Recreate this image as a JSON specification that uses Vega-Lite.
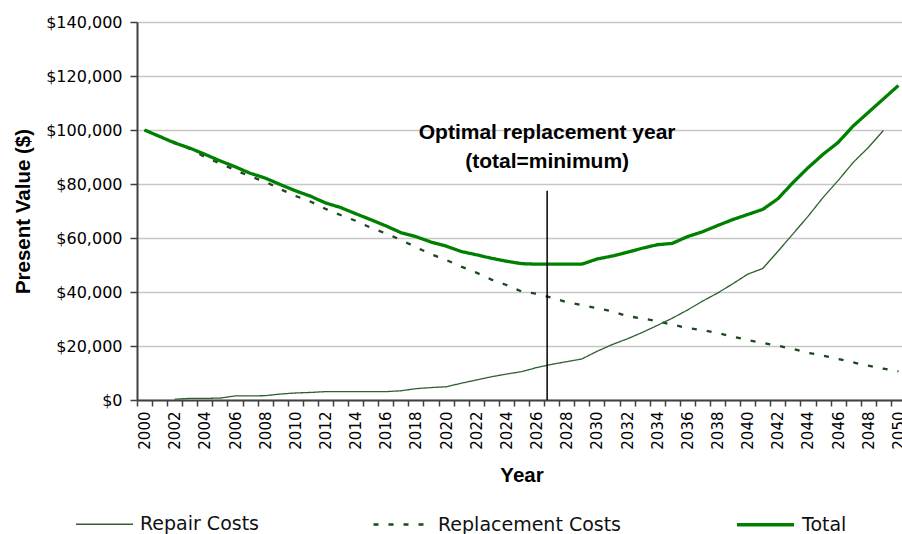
{
  "$schema": "https://vega.github.io/schema/vega-lite/v6.json",
  "width": 769,
  "height": 378,
  "autosize": {"type": "none"},
  "padding": {"left": 137, "top": 22, "right": 0, "bottom": 134},
  "background": "#ffffff",
  "config": {
    "view": {"stroke": null},
    "axis": {
      "labelFont": "DejaVu Sans",
      "labelColor": "#000000",
      "titleFont": "Liberation Sans",
      "titleFontWeight": "bold",
      "titleFontSize": 20.5,
      "titleColor": "#000000",
      "domainColor": "#404040",
      "domainWidth": 2,
      "tickColor": "#404040",
      "tickWidth": 1.5
    }
  },
  "datasets": {
    "lines": [
      {"year": 2000, "series": "Replacement Costs", "value": 100000},
      {"year": 2001, "series": "Replacement Costs", "value": 97700},
      {"year": 2002, "series": "Replacement Costs", "value": 95400},
      {"year": 2003, "series": "Replacement Costs", "value": 93000},
      {"year": 2004, "series": "Replacement Costs", "value": 90000},
      {"year": 2005, "series": "Replacement Costs", "value": 87600},
      {"year": 2006, "series": "Replacement Costs", "value": 85200},
      {"year": 2007, "series": "Replacement Costs", "value": 82800},
      {"year": 2008, "series": "Replacement Costs", "value": 80900},
      {"year": 2009, "series": "Replacement Costs", "value": 78100},
      {"year": 2010, "series": "Replacement Costs", "value": 75600},
      {"year": 2011, "series": "Replacement Costs", "value": 73500},
      {"year": 2012, "series": "Replacement Costs", "value": 70800},
      {"year": 2013, "series": "Replacement Costs", "value": 68500},
      {"year": 2014, "series": "Replacement Costs", "value": 66400},
      {"year": 2015, "series": "Replacement Costs", "value": 63800},
      {"year": 2016, "series": "Replacement Costs", "value": 61700},
      {"year": 2017, "series": "Replacement Costs", "value": 59300},
      {"year": 2018, "series": "Replacement Costs", "value": 56600},
      {"year": 2019, "series": "Replacement Costs", "value": 54000},
      {"year": 2020, "series": "Replacement Costs", "value": 51900},
      {"year": 2021, "series": "Replacement Costs", "value": 49400},
      {"year": 2022, "series": "Replacement Costs", "value": 47200},
      {"year": 2023, "series": "Replacement Costs", "value": 44600},
      {"year": 2024, "series": "Replacement Costs", "value": 42600},
      {"year": 2025, "series": "Replacement Costs", "value": 40200},
      {"year": 2026, "series": "Replacement Costs", "value": 39400},
      {"year": 2027, "series": "Replacement Costs", "value": 37900},
      {"year": 2028, "series": "Replacement Costs", "value": 36200},
      {"year": 2029, "series": "Replacement Costs", "value": 35200},
      {"year": 2030, "series": "Replacement Costs", "value": 34000},
      {"year": 2031, "series": "Replacement Costs", "value": 32900},
      {"year": 2032, "series": "Replacement Costs", "value": 31100},
      {"year": 2033, "series": "Replacement Costs", "value": 30200},
      {"year": 2034, "series": "Replacement Costs", "value": 29200},
      {"year": 2035, "series": "Replacement Costs", "value": 27900},
      {"year": 2036, "series": "Replacement Costs", "value": 26700},
      {"year": 2037, "series": "Replacement Costs", "value": 25900},
      {"year": 2038, "series": "Replacement Costs", "value": 24800},
      {"year": 2039, "series": "Replacement Costs", "value": 23500},
      {"year": 2040, "series": "Replacement Costs", "value": 22200},
      {"year": 2041, "series": "Replacement Costs", "value": 21100},
      {"year": 2042, "series": "Replacement Costs", "value": 20100},
      {"year": 2043, "series": "Replacement Costs", "value": 18900},
      {"year": 2044, "series": "Replacement Costs", "value": 17500},
      {"year": 2045, "series": "Replacement Costs", "value": 16400},
      {"year": 2046, "series": "Replacement Costs", "value": 15200},
      {"year": 2047, "series": "Replacement Costs", "value": 13900},
      {"year": 2048, "series": "Replacement Costs", "value": 12700},
      {"year": 2049, "series": "Replacement Costs", "value": 11600},
      {"year": 2050, "series": "Replacement Costs", "value": 10600},
      {"year": 2002, "series": "Repair Costs", "value": 300},
      {"year": 2003, "series": "Repair Costs", "value": 600},
      {"year": 2004, "series": "Repair Costs", "value": 600},
      {"year": 2005, "series": "Repair Costs", "value": 700},
      {"year": 2006, "series": "Repair Costs", "value": 1500},
      {"year": 2007, "series": "Repair Costs", "value": 1500},
      {"year": 2008, "series": "Repair Costs", "value": 1600},
      {"year": 2009, "series": "Repair Costs", "value": 2200},
      {"year": 2010, "series": "Repair Costs", "value": 2600},
      {"year": 2011, "series": "Repair Costs", "value": 2800},
      {"year": 2012, "series": "Repair Costs", "value": 3100},
      {"year": 2013, "series": "Repair Costs", "value": 3100},
      {"year": 2014, "series": "Repair Costs", "value": 3100},
      {"year": 2015, "series": "Repair Costs", "value": 3100},
      {"year": 2016, "series": "Repair Costs", "value": 3100},
      {"year": 2017, "series": "Repair Costs", "value": 3400},
      {"year": 2018, "series": "Repair Costs", "value": 4200},
      {"year": 2019, "series": "Repair Costs", "value": 4600},
      {"year": 2020, "series": "Repair Costs", "value": 4900},
      {"year": 2021, "series": "Repair Costs", "value": 6200},
      {"year": 2022, "series": "Repair Costs", "value": 7400},
      {"year": 2023, "series": "Repair Costs", "value": 8600},
      {"year": 2024, "series": "Repair Costs", "value": 9600},
      {"year": 2025, "series": "Repair Costs", "value": 10500},
      {"year": 2026, "series": "Repair Costs", "value": 12000},
      {"year": 2027, "series": "Repair Costs", "value": 13200},
      {"year": 2028, "series": "Repair Costs", "value": 14200},
      {"year": 2029, "series": "Repair Costs", "value": 15200},
      {"year": 2030, "series": "Repair Costs", "value": 18000},
      {"year": 2031, "series": "Repair Costs", "value": 20500},
      {"year": 2032, "series": "Repair Costs", "value": 22600},
      {"year": 2033, "series": "Repair Costs", "value": 25000},
      {"year": 2034, "series": "Repair Costs", "value": 27600},
      {"year": 2035, "series": "Repair Costs", "value": 30300},
      {"year": 2036, "series": "Repair Costs", "value": 33300},
      {"year": 2037, "series": "Repair Costs", "value": 36600},
      {"year": 2038, "series": "Repair Costs", "value": 39600},
      {"year": 2039, "series": "Repair Costs", "value": 43000},
      {"year": 2040, "series": "Repair Costs", "value": 46600},
      {"year": 2041, "series": "Repair Costs", "value": 48700},
      {"year": 2042, "series": "Repair Costs", "value": 55000},
      {"year": 2043, "series": "Repair Costs", "value": 61500},
      {"year": 2044, "series": "Repair Costs", "value": 68000},
      {"year": 2045, "series": "Repair Costs", "value": 75000},
      {"year": 2046, "series": "Repair Costs", "value": 81300},
      {"year": 2047, "series": "Repair Costs", "value": 88000},
      {"year": 2048, "series": "Repair Costs", "value": 93500},
      {"year": 2049, "series": "Repair Costs", "value": 99800},
      {"year": 2000, "series": "Total", "value": 100000},
      {"year": 2001, "series": "Total", "value": 97600},
      {"year": 2002, "series": "Total", "value": 95200},
      {"year": 2003, "series": "Total", "value": 93300},
      {"year": 2004, "series": "Total", "value": 91000},
      {"year": 2005, "series": "Total", "value": 88600},
      {"year": 2006, "series": "Total", "value": 86400},
      {"year": 2007, "series": "Total", "value": 84000},
      {"year": 2008, "series": "Total", "value": 82200},
      {"year": 2009, "series": "Total", "value": 79800},
      {"year": 2010, "series": "Total", "value": 77500},
      {"year": 2011, "series": "Total", "value": 75500},
      {"year": 2012, "series": "Total", "value": 73000},
      {"year": 2013, "series": "Total", "value": 71300},
      {"year": 2014, "series": "Total", "value": 69000},
      {"year": 2015, "series": "Total", "value": 66800},
      {"year": 2016, "series": "Total", "value": 64500},
      {"year": 2017, "series": "Total", "value": 62000},
      {"year": 2018, "series": "Total", "value": 60500},
      {"year": 2019, "series": "Total", "value": 58500},
      {"year": 2020, "series": "Total", "value": 57000},
      {"year": 2021, "series": "Total", "value": 55000},
      {"year": 2022, "series": "Total", "value": 53800},
      {"year": 2023, "series": "Total", "value": 52500},
      {"year": 2024, "series": "Total", "value": 51400},
      {"year": 2025, "series": "Total", "value": 50500},
      {"year": 2026, "series": "Total", "value": 50300},
      {"year": 2027, "series": "Total", "value": 50300},
      {"year": 2028, "series": "Total", "value": 50300},
      {"year": 2029, "series": "Total", "value": 50300},
      {"year": 2030, "series": "Total", "value": 52200},
      {"year": 2031, "series": "Total", "value": 53300},
      {"year": 2032, "series": "Total", "value": 54700},
      {"year": 2033, "series": "Total", "value": 56200},
      {"year": 2034, "series": "Total", "value": 57500},
      {"year": 2035, "series": "Total", "value": 58000},
      {"year": 2036, "series": "Total", "value": 60500},
      {"year": 2037, "series": "Total", "value": 62300},
      {"year": 2038, "series": "Total", "value": 64600},
      {"year": 2039, "series": "Total", "value": 66800},
      {"year": 2040, "series": "Total", "value": 68700},
      {"year": 2041, "series": "Total", "value": 70600},
      {"year": 2042, "series": "Total", "value": 74500},
      {"year": 2043, "series": "Total", "value": 80500},
      {"year": 2044, "series": "Total", "value": 86000},
      {"year": 2045, "series": "Total", "value": 91000},
      {"year": 2046, "series": "Total", "value": 95400},
      {"year": 2047, "series": "Total", "value": 101500},
      {"year": 2048, "series": "Total", "value": 106500},
      {"year": 2049, "series": "Total", "value": 111500},
      {"year": 2050, "series": "Total", "value": 116500}
    ],
    "marker": [
      {"year": 2026.7, "low": 0, "high": 77500, "labelY": 96700, "label": "Optimal replacement year\n(total=minimum)"}
    ]
  },
  "resolve": {"axis": {"x": "independent"}},
  "layer": [
    {
      "data": {"name": "lines"},
      "mark": {"type": "line", "strokeCap": "butt"},
      "encoding": {
        "x": {
          "field": "year",
          "type": "quantitative",
          "scale": {"domain": [1999.5, 2050.5], "nice": false, "zero": false},
          "axis": {
            "orient": "bottom",
            "title": "Year",
            "values": [2000,2002,2004,2006,2008,2010,2012,2014,2016,2018,2020,2022,2024,2026,2028,2030,2032,2034,2036,2038,2040,2042,2044,2046,2048,2050],
            "format": "d",
            "labelAngle": 270,
            "labelOverlap": false,
            "labelFlush": false,
            "labelFontSize": 15,
            "labelPadding": 11,
            "ticks": false,
            "domain": true,
            "grid": false,
            "titlePadding": 16
          }
        },
        "y": {
          "field": "value",
          "type": "quantitative",
          "scale": {"domain": [0, 140000], "nice": false},
          "axis": {
            "title": "Present Value ($)",
            "values": [0, 20000, 40000, 60000, 80000, 100000, 120000, 140000],
            "format": "$,.0f",
            "grid": true,
            "gridColor": "#c6c6c6",
            "gridWidth": 1.5,
            "tickSize": 7,
            "labelPadding": 8,
            "labelFontSize": 16,
            "titlePadding": 12
          }
        },
        "color": {
          "field": "series",
          "type": "nominal",
          "scale": {"domain": ["Repair Costs", "Replacement Costs", "Total"], "range": ["#2f602f", "#1c481c", "#008000"]},
          "legend": {
            "orient": "none",
            "legendX": -62,
            "legendY": 472,
            "direction": "horizontal",
            "title": null,
            "padding": 0,
            "symbolType": "stroke",
            "symbolSize": 3249,
            "labelFont": "DejaVu Sans",
            "labelFontSize": 19,
            "labelColor": "#111111",
            "labelLimit": 400,
            "labelOffset": 6,
            "columnPadding": 108
          }
        },
        "strokeDash": {
          "field": "series",
          "type": "nominal",
          "scale": {"domain": ["Repair Costs", "Replacement Costs", "Total"], "range": [[1, 0], [5, 10], [1, 0]]},
          "legend": null
        },
        "strokeWidth": {
          "field": "series",
          "type": "nominal",
          "scale": {"domain": ["Repair Costs", "Replacement Costs", "Total"], "range": [1.3, 3.3, 4.5]},
          "legend": null
        }
      }
    },
    {
      "data": {"name": "marker"},
      "mark": {"type": "rule", "color": "#000000", "strokeWidth": 1.5},
      "encoding": {
        "x": {
          "field": "year",
          "type": "quantitative",
          "axis": {
            "orient": "bottom",
            "title": null,
            "values": [1999.5,2000.5,2001.5,2002.5,2003.5,2004.5,2005.5,2006.5,2007.5,2008.5,2009.5,2010.5,2011.5,2012.5,2013.5,2014.5,2015.5,2016.5,2017.5,2018.5,2019.5,2020.5,2021.5,2022.5,2023.5,2024.5,2025.5,2026.5,2027.5,2028.5,2029.5,2030.5,2031.5,2032.5,2033.5,2034.5,2035.5,2036.5,2037.5,2038.5,2039.5,2040.5,2041.5,2042.5,2043.5,2044.5,2045.5,2046.5,2047.5,2048.5,2049.5,2050.5],
            "labels": false,
            "domain": false,
            "grid": false,
            "tickSize": 6
          }
        },
        "y": {"field": "low", "type": "quantitative"},
        "y2": {"field": "high"}
      }
    },
    {
      "data": {"name": "marker"},
      "mark": {"type": "text", "font": "Liberation Sans", "fontWeight": "bold", "fontSize": 21, "align": "center", "baseline": "alphabetic", "lineBreak": "\n", "lineHeight": 29, "color": "#000000"},
      "encoding": {
        "x": {"field": "year", "type": "quantitative", "axis": null},
        "y": {"field": "labelY", "type": "quantitative"},
        "text": {"field": "label"}
      }
    }
  ]
}
